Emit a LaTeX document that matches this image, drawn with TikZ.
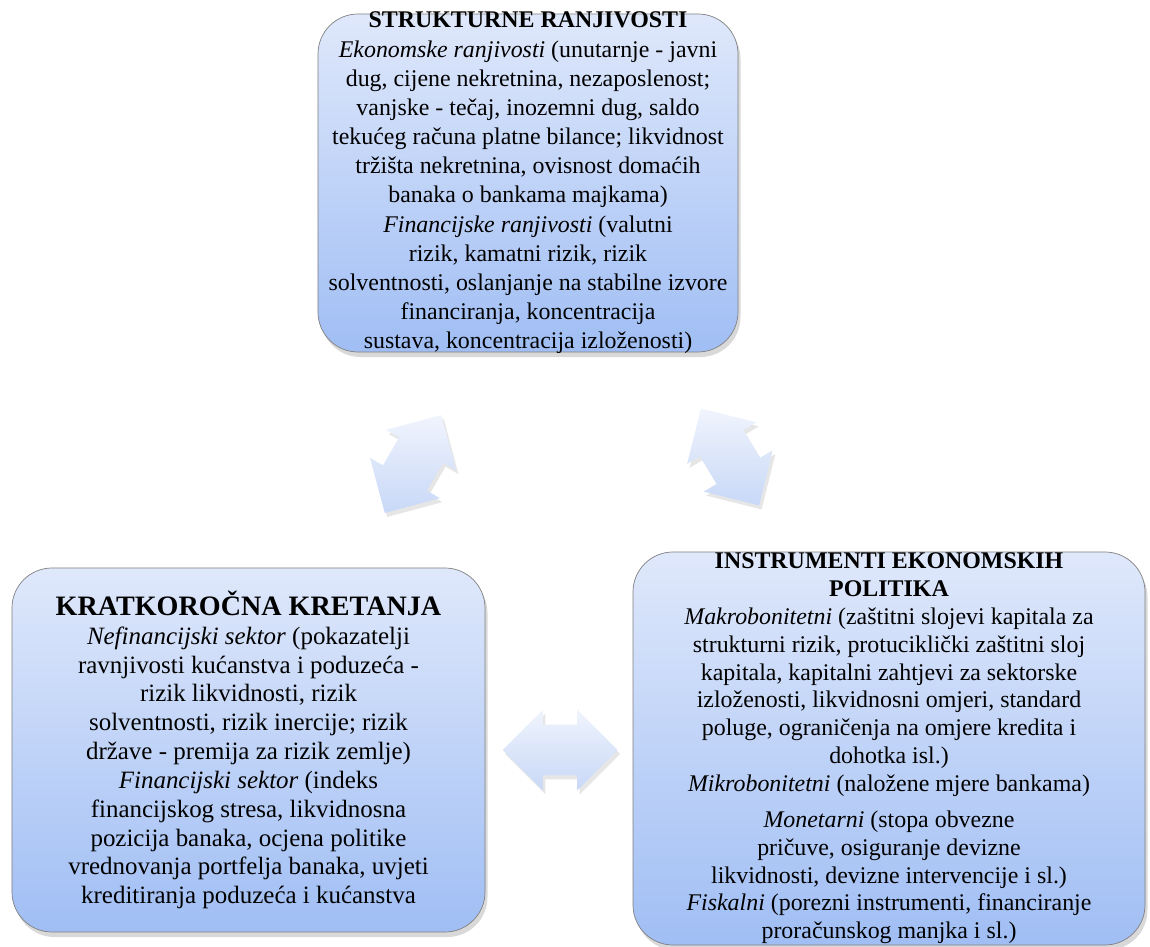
\documentclass[tikz,border=0pt]{standalone}
\usepackage{fontspec}
\setmainfont{LiberationSerif}[Extension=.ttf, UprightFont=*-Regular, BoldFont=*-Bold, ItalicFont=*-Italic, BoldItalicFont=*-BoldItalic]
\usetikzlibrary{shapes.arrows,shadows}
\definecolor{boxtop}{RGB}{223,232,251}
\definecolor{boxbottom}{RGB}{160,190,244}
\definecolor{arrtop}{RGB}{240,244,253}
\definecolor{arrbottom}{RGB}{200,216,247}
\definecolor{boxline}{RGB}{128,128,128}
\begin{document}
\begin{tikzpicture}[x=0.2mm,y=0.2mm,
  box/.style={rectangle, rounded corners=8mm, draw=boxline, thin, top color=boxtop, bottom color=boxbottom, align=center, inner sep=0pt, drop shadow={opacity=0.3, shadow xshift=0.5mm, shadow yshift=-1mm}},
  dblarrow/.style={double arrow, double arrow head extend=3mm, minimum height=22.6mm, inner xsep=0pt, inner ysep=5mm, top color=arrtop, bottom color=arrbottom, drop shadow={opacity=0.2, shadow xshift=0.5mm, shadow yshift=-0.8mm}},
  bodytext/.style={font=\fontsize{13.6}{15.8}\selectfont}]
  \useasboundingbox (0,0) rectangle (1150,-947);
  \node [box, font=\fontsize{13.6}{16.6}\selectfont, inner ysep=-2mm, minimum width=84mm, minimum height=67.6mm] (Struct) at (528,-183)
    {\textbf{STRUKTURNE RANJIVOSTI}\\
     \textit{Ekonomske ranjivosti} (unutarnje - javni\\
     dug, cijene nekretnina, nezaposlenost;\\
     vanjske - tečaj, inozemni dug, saldo\\
     tekućeg računa platne bilance; likvidnost\\
     tržišta nekretnina, ovisnost domaćih\\
     banaka o bankama majkama)\\
     \textit{Financijske ranjivosti} (valutni\\
     rizik, kamatni rizik, rizik\\
     solventnosti, oslanjanje na stabilne izvore\\
     financiranja, koncentracija\\
     sustava, koncentracija izloženosti)};
  \node [box, font=\fontsize{14.2}{16.4}\selectfont, minimum width=94.6mm, minimum height=72.8mm] (Short) at (248.5,-750)
    {{\fontsize{16}{18.5}\selectfont\textbf{KRATKOROČNA KRETANJA}}\\
     \textit{Nefinancijski sektor} (pokazatelji\\
     ravnjivosti kućanstva i poduzeća -\\
     rizik likvidnosti, rizik\\
     solventnosti, rizik inercije; rizik\\
     države - premija za rizik zemlje)\\
     \textit{Financijski sektor} (indeks\\
     financijskog stresa, likvidnosna\\
     pozicija banaka, ocjena politike\\
     vrednovanja portfelja banaka, uvjeti\\
     kreditiranja poduzeća i kućanstva};
  \node [box, bodytext, minimum width=102.4mm, minimum height=78.6mm] (Policy) at (889,-748.5)
    {\textbf{INSTRUMENTI EKONOMSKIH}\\
     \textbf{POLITIKA}\\
     \textit{Makrobonitetni} (zaštitni slojevi kapitala za\\
     strukturni rizik, protuciklički zaštitni sloj\\
     kapitala, kapitalni zahtjevi za sektorske\\
     izloženosti, likvidnosni omjeri, standard\\
     poluge, ograničenja na omjere kredita i\\
     dohotka isl.)\\
     \textit{Mikrobonitetni} (naložene mjere bankama)\\[5pt]
     \textit{Monetarni} (stopa obvezne\\
     pričuve, osiguranje devizne\\
     likvidnosti, devizne intervencije i sl.)\\
     \textit{Fiskalni} (porezni instrumenti, financiranje\\
     proračunskog manjka i sl.)};
  \node [dblarrow, rotate=60] (ArrowL) at (413,-464) {};
  \node [dblarrow, rotate=-59] (ArrowR) at (730,-457) {};
  \node [dblarrow, minimum height=23mm] (ArrowB) at (560,-750) {};
\end{tikzpicture}
\end{document}
